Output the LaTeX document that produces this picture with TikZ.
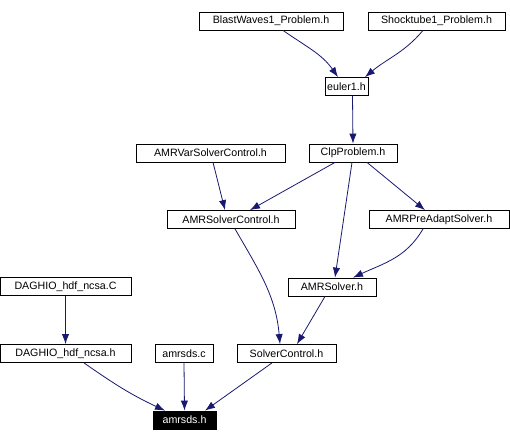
\documentclass[tikz,border=0pt]{standalone}
\usepackage{fontspec}
\setmainfont{Liberation Sans}
\usetikzlibrary{arrows.meta,calc}

\tikzset{
  file/.style={draw=black, fill=white, line width=0.6pt, inner sep=0pt,
    minimum height=13.5pt, font=\fontsize{8pt}{9.5pt}\selectfont},
  root/.style={file, fill=black, text=white},
  dep/.style={draw={rgb,255:red,25;green,25;blue,112}, line width=0.6pt,
    -{Latex[length=7.5pt,width=5.5pt]}},
}

\begin{document}
\begin{tikzpicture}[x=0.75pt, y=-0.75pt]
			\useasboundingbox (0,0) rectangle (510,442);
			% top headers
			\node[file, minimum width=108pt] (blast) at (271, 21) {BlastWaves1\_Problem.h};
			\node[file, minimum width=102.75pt] (shock) at (436.5, 21) {Shocktube1\_Problem.h};
			\node[file, minimum width=32.25pt] (euler) at (346.5, 86.5) {euler1.h};
			\node[file, minimum width=66pt] (clp) at (353, 153) {ClpProblem.h};
			\node[file, minimum width=111.75pt] (amrvar) at (210.5, 153) {AMRVarSolverControl.h};
			
			% solver headers
			\node[file, minimum width=96pt] (amrsc) at (231, 219.5) {AMRSolverControl.h};
			\node[file, minimum width=105pt] (preadapt) at (439, 219.5) {AMRPreAdaptSolver.h};
			\node[file, minimum width=66pt] (amrsolver) at (332, 287) {AMRSolver.h};
			\node[file, minimum width=74.25pt] (solverctl) at (286.5, 353.5) {SolverControl.h};
			
			% io files
			\node[file, minimum width=98.25pt] (daghioC) at (65.5, 286.5) {DAGHIO\_hdf\_ncsa.C};
			\node[file, minimum width=98.25pt] (daghioH) at (65.5, 353.5) {DAGHIO\_hdf\_ncsa.h};
			\node[file, minimum width=43.5pt] (amrsdsc) at (184, 353.5) {amrsds.c};
			\node[root, minimum width=47.25pt] (amrsds) at (184.5, 420) {amrsds.h}; % root
			
			% DRAW EDGES
			\path[dep] ($(blast.south)+(12,0)$) to[out=-35,in=125] ($(euler.north)+(-8.5,0)$);
			\path[dep] ($(shock.south)+(-13.5,0)$) to[out=-130,in=40] ($(euler.north)+(18.5,0)$);
			\path[dep] ($(euler.south)+(6,0)$) -- (clp.north);
			\path[dep] ($(amrvar.south)+(2.5,0)$) -- ($(amrsc.north)+(-6,0)$);
			\path[dep] ($(clp.south)+(-18,0)$) -- ($(amrsc.north)+(19,0)$);
			\path[dep] ($(clp.south)+(-1,0)$) -- ($(amrsolver.north)+(3,0)$);
			\path[dep] ($(clp.south)+(14,0)$) -- ($(preadapt.north)+(-14,0)$);
			\path[dep] ($(preadapt.south)+(-16,0)$) to[out=-120,in=25] ($(amrsolver.north)+(21,0)$);
			\path[dep] ($(amrsc.south)+(4,0)$) to[out=-60,in=95] ($(solverctl.north)+(-6.5,0)$);
			\path[dep] ($(amrsolver.south)+(-7,0)$) -- ($(solverctl.north)+(10.5,0)$);
			\path[dep] (daghioC.south) -- (daghioH.north);
			\path[dep] ($(daghioH.south)+(18.5,0)$) to[out=-35,in=155] ($(amrsds.north)+(-19.5,0)$);
			\path[dep] (amrsdsc.south) -- (amrsds.north);
			\path[dep] ($(solverctl.south)+(-14.5,0)$) -- ($(amrsds.north)+(20.5,0)$);
		\end{tikzpicture}
\end{document}
